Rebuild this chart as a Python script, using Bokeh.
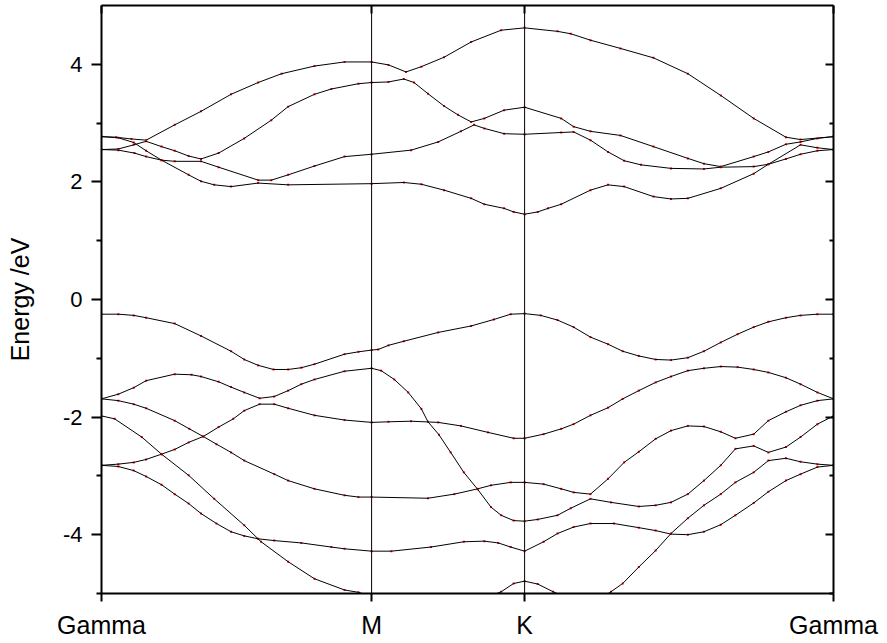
from bokeh.plotting import figure
from bokeh.models import Range1d, LinearAxis, FixedTicker, Span, CustomJSTickFormatter
from bokeh.embed import file_html
from bokeh.resources import INLINE

# ---- high-symmetry points (fraction of k-path) ----
sym_k = [0.0, 0.369, 0.578, 1.0]
sym_labels = ["Gamma", "M", "K", "Gamma"]

# ---- conduction bands ----
c4_k = [0, 0.020, 0.041, 0.061, 0.100, 0.136, 0.177, 0.214, 0.246, 0.291, 0.332, 0.369,
        0.392, 0.416, 0.437, 0.468, 0.505, 0.546, 0.578,
        0.623, 0.641, 0.668, 0.709, 0.754, 0.801, 0.846, 0.891, 0.935, 0.955, 1.0]
c4_e = [2.77, 2.76, 2.73, 2.71, 2.97, 3.20, 3.49, 3.69, 3.84, 3.97, 4.04, 4.04,
        3.99, 3.87, 3.96, 4.12, 4.38, 4.58, 4.62,
        4.56, 4.52, 4.41, 4.27, 4.11, 3.84, 3.47, 3.08, 2.76, 2.72, 2.77]

c3_k = [0, 0.023, 0.044, 0.061, 0.082, 0.100, 0.119, 0.136, 0.160, 0.195, 0.232, 0.255, 0.291, 0.314, 0.351, 0.369,
        0.392, 0.413, 0.427, 0.446, 0.468, 0.487, 0.505, 0.523, 0.550, 0.578,
        0.628, 0.645, 0.668, 0.709, 0.754, 0.801, 0.823, 0.846, 0.891, 0.911, 0.935, 0.955, 0.978, 1.0]
c3_e = [2.55, 2.56, 2.63, 2.69, 2.60, 2.53, 2.44, 2.39, 2.49, 2.74, 3.05, 3.28, 3.49, 3.58, 3.67, 3.69,
        3.70, 3.75, 3.69, 3.50, 3.29, 3.14, 3.02, 3.08, 3.22, 3.27,
        3.08, 2.94, 2.86, 2.79, 2.60, 2.40, 2.31, 2.26, 2.43, 2.51, 2.64, 2.68, 2.74, 2.77]

c2_k = [0, 0.023, 0.045, 0.061, 0.082, 0.100, 0.136, 0.160, 0.214, 0.232, 0.255, 0.291, 0.332, 0.369,
        0.423, 0.460, 0.491, 0.509, 0.523, 0.550, 0.578,
        0.628, 0.645, 0.668, 0.692, 0.714, 0.737, 0.778, 0.823, 0.846, 0.891, 0.911, 0.935, 0.955, 0.978, 1.0]
c2_e = [2.55, 2.54, 2.49, 2.43, 2.37, 2.35, 2.35, 2.25, 2.03, 2.03, 2.12, 2.27, 2.43, 2.47,
        2.54, 2.68, 2.86, 2.97, 2.91, 2.82, 2.81,
        2.84, 2.85, 2.71, 2.51, 2.36, 2.29, 2.23, 2.22, 2.25, 2.26, 2.30, 2.39, 2.47, 2.53, 2.55]

c1_k = [0, 0.023, 0.044, 0.061, 0.082, 0.119, 0.136, 0.154, 0.177, 0.214, 0.255, 0.369,
        0.413, 0.437, 0.468, 0.505, 0.523, 0.550, 0.563, 0.578,
        0.596, 0.610, 0.628, 0.668, 0.692, 0.714, 0.754, 0.778, 0.801, 0.846, 0.891, 0.911, 0.955, 0.978, 1.0]
c1_e = [2.77, 2.75, 2.67, 2.53, 2.37, 2.12, 2.01, 1.95, 1.92, 1.98, 1.95, 1.97,
        1.99, 1.96, 1.86, 1.72, 1.62, 1.55, 1.49, 1.45,
        1.49, 1.55, 1.62, 1.86, 1.95, 1.92, 1.75, 1.71, 1.72, 1.89, 2.14, 2.30, 2.63, 2.58, 2.55]

# ---- valence bands ----
v1_k = [0, 0.023, 0.044, 0.061, 0.100, 0.136, 0.177, 0.195, 0.214, 0.235, 0.255, 0.273, 0.291, 0.332, 0.351, 0.369,
        0.378, 0.392, 0.413, 0.460, 0.505, 0.536, 0.559, 0.578,
        0.600, 0.623, 0.645, 0.668, 0.692, 0.712, 0.734, 0.757, 0.778, 0.801, 0.823, 0.846, 0.869, 0.891, 0.911,
        0.935, 0.955, 0.978, 1.0]
v1_e = [-0.25, -0.25, -0.27, -0.31, -0.41, -0.62, -0.88, -1.02, -1.12, -1.19, -1.19, -1.16, -1.10, -0.93, -0.89, -0.86,
        -0.85, -0.78, -0.71, -0.56, -0.45, -0.34, -0.25, -0.24,
        -0.27, -0.35, -0.47, -0.64, -0.76, -0.88, -0.96, -1.02, -1.03, -0.99, -0.88, -0.73, -0.59, -0.47, -0.38,
        -0.31, -0.27, -0.25, -0.25]

v2_k = [0, 0.023, 0.044, 0.061, 0.100, 0.123, 0.136, 0.160, 0.177, 0.195, 0.216, 0.236, 0.255, 0.273, 0.291, 0.332, 0.369,
        0.382, 0.400, 0.419, 0.437, 0.446, 0.461, 0.477, 0.495, 0.514, 0.532, 0.546, 0.563, 0.578,
        0.596, 0.623, 0.641, 0.668, 0.696, 0.734, 0.757, 0.778, 0.801, 0.823, 0.846, 0.866, 0.891, 0.911,
        0.935, 0.955, 0.978, 1.0]
v2_e = [-1.69, -1.61, -1.50, -1.38, -1.27, -1.28, -1.31, -1.40, -1.49, -1.58, -1.68, -1.65, -1.55, -1.44, -1.36, -1.22, -1.17,
        -1.21, -1.36, -1.58, -1.86, -2.08, -2.30, -2.60, -2.94, -3.23, -3.53, -3.67, -3.76, -3.77,
        -3.74, -3.67, -3.55, -3.39, -3.45, -3.52, -3.50, -3.45, -3.31, -3.08, -2.82, -2.54, -2.49, -2.60,
        -2.51, -2.34, -2.12, -1.98]

v3_k = [0, 0.023, 0.044, 0.061, 0.100, 0.120, 0.139, 0.157, 0.177, 0.195, 0.236, 0.255, 0.291, 0.332, 0.351, 0.369,
        0.446, 0.482, 0.514, 0.532, 0.559, 0.578,
        0.604, 0.628, 0.645, 0.668, 0.692, 0.714, 0.734, 0.757, 0.778, 0.801, 0.823, 0.846, 0.866, 0.891, 0.911,
        0.935, 0.955, 0.978, 1.0]
v3_e = [-1.69, -1.72, -1.78, -1.85, -2.06, -2.20, -2.33, -2.46, -2.60, -2.74, -2.97, -3.08, -3.22, -3.33, -3.36, -3.36,
        -3.38, -3.31, -3.22, -3.16, -3.11, -3.11,
        -3.14, -3.22, -3.28, -3.31, -3.05, -2.77, -2.59, -2.37, -2.23, -2.15, -2.16, -2.25, -2.36, -2.29, -2.06,
        -1.91, -1.80, -1.72, -1.69]

v4_k = [0, 0.023, 0.044, 0.061, 0.082, 0.100, 0.119, 0.139, 0.160, 0.180, 0.195, 0.216, 0.236, 0.255, 0.291, 0.332, 0.369,
        0.392, 0.423, 0.460, 0.491, 0.528, 0.563, 0.578,
        0.604, 0.628, 0.645, 0.668, 0.692, 0.712, 0.734, 0.757, 0.778, 0.801, 0.823, 0.846, 0.869, 0.891, 0.911,
        0.935, 0.955, 0.978, 1.0]
v4_e = [-2.82, -2.80, -2.77, -2.72, -2.63, -2.55, -2.43, -2.33, -2.17, -2.03, -1.89, -1.78, -1.78, -1.85, -1.97, -2.05, -2.09,
        -2.08, -2.07, -2.09, -2.15, -2.26, -2.36, -2.36,
        -2.29, -2.20, -2.12, -1.97, -1.84, -1.69, -1.55, -1.41, -1.31, -1.21, -1.17, -1.14, -1.15, -1.19, -1.24,
        -1.33, -1.44, -1.58, -1.69]

v5_k = [0, 0.023, 0.044, 0.061, 0.082, 0.100, 0.119, 0.136, 0.157, 0.177, 0.195, 0.214, 0.236, 0.273, 0.314, 0.332, 0.369,
        0.396, 0.450, 0.495, 0.523, 0.542, 0.559, 0.578,
        0.604, 0.623, 0.645, 0.668, 0.700, 0.734, 0.757, 0.778, 0.801, 0.823, 0.846, 0.866, 0.891, 0.911,
        0.935, 0.955, 0.978, 1.0]
v5_e = [-2.82, -2.84, -2.91, -3.01, -3.15, -3.31, -3.47, -3.64, -3.81, -3.95, -4.02, -4.07, -4.10, -4.14, -4.21, -4.24, -4.28,
        -4.28, -4.21, -4.12, -4.11, -4.14, -4.21, -4.28,
        -4.12, -3.98, -3.87, -3.81, -3.81, -3.88, -3.93, -3.99, -4.00, -3.95, -3.83, -3.67, -3.46, -3.27,
        -3.08, -2.97, -2.85, -2.82]

v6_k = [0, 0.018, 0.055, 0.082, 0.119, 0.154, 0.195, 0.218, 0.255, 0.291, 0.332, 0.351, 0.369,
        0.437, 0.505, 0.530, 0.546, 0.563, 0.578,
        0.596, 0.617, 0.650, 0.680, 0.696, 0.712, 0.734, 0.757, 0.778, 0.801, 0.823, 0.846, 0.866, 0.891, 0.911,
        0.935, 0.955, 0.978, 1.0]
v6_e = [-1.98, -2.03, -2.34, -2.63, -2.99, -3.39, -3.84, -4.12, -4.46, -4.75, -4.94, -4.98, -5.05,
        -5.35, -5.30, -5.05, -4.97, -4.83, -4.79,
        -4.84, -4.97, -5.15, -5.10, -4.97, -4.83, -4.55, -4.27, -3.98, -3.72, -3.50, -3.31, -3.11, -2.94, -2.74,
        -2.70, -2.76, -2.80, -2.82]

bands = [(c4_k, c4_e), (c3_k, c3_e), (c2_k, c2_e), (c1_k, c1_e),
         (v1_k, v1_e), (v2_k, v2_e), (v3_k, v3_e), (v4_k, v4_e), (v5_k, v5_e), (v6_k, v6_e)]

y_ticks = [-4, -2, 0, 2, 4]
y_tick_labels = ["-4", "-2", "0", "2", "4"]
y_minor = [-5, -3, -1, 1, 3]

FONT = "Liberation Sans"
blank = CustomJSTickFormatter(code="return ''")

p = figure(width=880, height=641, output_backend="svg", toolbar_location=None,
           x_range=Range1d(0, 1), y_range=Range1d(-5, 5),
           min_border_left=101, min_border_right=47, min_border_top=5, min_border_bottom=46)
p.grid.visible = False
p.outline_line_color = None
p.background_fill_color = "white"
p.border_fill_color = "white"

for ks, es in bands:
    p.scatter(ks, es, size=2, marker="square", color="red", line_width=0)
    p.line(ks, es, line_color="black", line_width=1)

for ksym in sym_k[1:-1]:
    p.add_layout(Span(location=ksym, dimension="height", line_color="black", line_width=1))

# bottom axis
xa = p.xaxis[0]
xa.ticker = FixedTicker(ticks=sym_k)
xa.major_label_overrides = {k: lab for k, lab in zip(sym_k, sym_labels)}
xa.major_label_text_font = FONT
xa.major_label_text_font_size = "25px"
xa.major_label_text_color = "black"
xa.major_label_standoff = 9
xa.major_tick_out = 8
xa.major_tick_in = 0
xa.axis_line_width = 2
xa.major_tick_line_width = 2
xa.minor_tick_line_color = None

# left axis
ya = p.yaxis[0]
ya.ticker = FixedTicker(ticks=y_ticks, minor_ticks=y_minor)
ya.major_label_overrides = {t: s for t, s in zip(y_ticks, y_tick_labels)}
ya.major_label_text_font = FONT
ya.major_label_text_font_size = "22px"
ya.major_label_text_color = "black"
ya.major_label_standoff = 9
ya.major_tick_out = 10
ya.major_tick_in = 0
ya.minor_tick_out = 5
ya.minor_tick_in = 0
ya.axis_line_width = 2
ya.major_tick_line_width = 2
ya.minor_tick_line_width = 2
ya.axis_label = "Energy /eV"
ya.axis_label_text_font = FONT
ya.axis_label_text_font_size = "25px"
ya.axis_label_text_font_style = "normal"
ya.axis_label_text_color = "black"
ya.axis_label_standoff = 26

# right axis (ticks inward, no labels)
ra = LinearAxis(ticker=FixedTicker(ticks=y_ticks, minor_ticks=y_minor), formatter=blank)
ra.major_label_standoff = 0
ra.major_tick_in = 8
ra.major_tick_out = 0
ra.minor_tick_in = 4
ra.minor_tick_out = 0
ra.axis_line_width = 2
ra.major_tick_line_width = 2
ra.minor_tick_line_width = 2
p.add_layout(ra, "right")

# top axis (ticks inward, no labels)
ta = LinearAxis(ticker=FixedTicker(ticks=sym_k), formatter=blank)
ta.major_label_standoff = 0
ta.major_tick_in = 8
ta.major_tick_out = 0
ta.minor_tick_line_color = None
ta.axis_line_width = 2
ta.major_tick_line_width = 2
p.add_layout(ta, "above")

open("out.html", "w").write(file_html(p, INLINE))
